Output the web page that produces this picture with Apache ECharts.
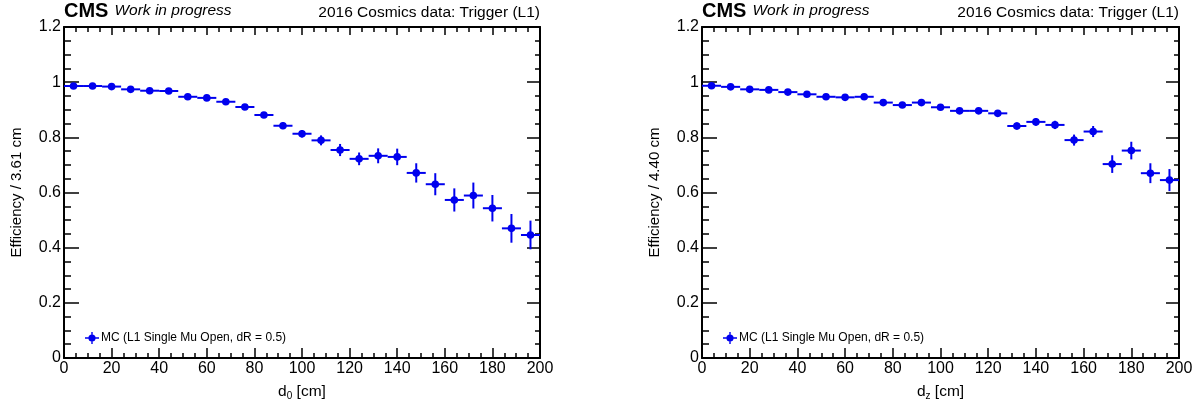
<!DOCTYPE html>
<html>
<head>
<meta charset="utf-8">
<script src="https://cdn.jsdelivr.net/npm/echarts@6/dist/echarts.min.js"></script>
<style>
html, body { margin: 0; padding: 0; background: #fff; }
#chart { width: 1193px; height: 405px; }
</style>
</head>
<body>
<div id="chart"></div>
<script>
// ---- data ----
const binCenters = [4, 12, 20, 28, 36, 44, 52, 60, 68, 76, 84, 92, 100, 108, 116, 124, 132, 140, 148, 156, 164, 172, 180, 188, 196];
const binHalfWidth = 4;
const d0Eff = [0.986, 0.986, 0.984, 0.974, 0.969, 0.968, 0.947, 0.943, 0.929, 0.910, 0.881, 0.842, 0.813, 0.789, 0.754, 0.722, 0.733, 0.729, 0.671, 0.630, 0.573, 0.589, 0.543, 0.470, 0.446];
const d0Err = [0.005, 0.005, 0.005, 0.006, 0.006, 0.006, 0.007, 0.007, 0.008, 0.009, 0.010, 0.012, 0.014, 0.018, 0.022, 0.023, 0.027, 0.030, 0.035, 0.040, 0.042, 0.047, 0.048, 0.052, 0.052];
const dzEff = [0.987, 0.983, 0.974, 0.972, 0.964, 0.956, 0.947, 0.945, 0.947, 0.926, 0.917, 0.926, 0.909, 0.896, 0.896, 0.887, 0.841, 0.856, 0.845, 0.790, 0.821, 0.703, 0.752, 0.670, 0.645];
const dzErr = [0.005, 0.005, 0.005, 0.005, 0.006, 0.006, 0.006, 0.006, 0.007, 0.008, 0.008, 0.008, 0.009, 0.009, 0.010, 0.010, 0.013, 0.014, 0.015, 0.020, 0.020, 0.032, 0.032, 0.036, 0.040];
const seriesName = 'MC (L1 Single Mu Open, dR = 0.5)';
const xTicks = { min: 0, max: 200, interval: 20 };
const yTicks = { min: 0, max: 1.2, interval: 0.2 };
const yTitles = ['Efficiency / 3.61 cm', 'Efficiency / 4.40 cm'];
const xTitles = ['{a|d}{s|0}{a| [cm]}', '{a|d}{s|z}{a| [cm]}'];
const headerLeft = '{b|CMS} {i|Work in progress}';
const headerRight = '2016 Cosmics data: Trigger (L1)';

// ---- style ----
const FONT = '"Liberation Sans", Arial, Helvetica, sans-serif';
const BLUE = '#0000ee';
const grids = [
  { left: 64, top: 27, width: 476, height: 331 },
  { left: 702, top: 27, width: 477, height: 331 }
];

function buildData(eff, err) {
  return binCenters.map((x, i) => [x, eff[i], err[i], binHalfWidth]);
}

function renderErr(params, api) {
  const x = api.value(0), y = api.value(1), e = api.value(2), hw = api.value(3);
  const c = api.coord([x, y]);
  const l = api.coord([x - hw, y]);
  const r = api.coord([x + hw, y]);
  const t = api.coord([x, y + e]);
  const b = api.coord([x, y - e]);
  const st = { stroke: BLUE, lineWidth: 2 };
  return {
    type: 'group',
    children: [
      { type: 'line', shape: { x1: l[0], y1: c[1], x2: r[0], y2: c[1] }, style: st },
      { type: 'line', shape: { x1: c[0], y1: t[1], x2: c[0], y2: b[1] }, style: st },
      { type: 'circle', shape: { cx: c[0], cy: c[1], r: 3.8 }, style: { fill: BLUE } }
    ]
  };
}

const lineSt = { color: '#000', width: 2 };
const tickSt = { color: '#000', width: 1.5 };

const xAxis = [], yAxis = [], series = [], title = [], legend = [];
const legendIcon = 'path://M0,5.3L14,5.3L14,6.7L0,6.7Z M6.3,0L7.7,0L7.7,12L6.3,12Z M10.6,6A3.6,3.6,0,1,1,3.4,6A3.6,3.6,0,1,1,10.6,6Z';

[0, 1].forEach(g => {
  xAxis.push({
    gridIndex: g, type: 'value', position: 'bottom', ...xTicks,
    axisLine: { show: true, onZero: false, lineStyle: lineSt },
    axisTick: { show: true, inside: true, length: 10, lineStyle: tickSt },
    minorTick: { show: true, splitNumber: 4, length: 5, lineStyle: tickSt },
    axisLabel: { color: '#000', fontSize: 16, fontFamily: FONT, margin: 3, showMinLabel: true, showMaxLabel: true },
    splitLine: { show: false }, minorSplitLine: { show: false },
    name: xTitles[g], nameLocation: 'middle', nameGap: 10,
    nameTextStyle: {
      color: '#000', fontFamily: FONT,
      rich: {
        a: { fontSize: 15.5, lineHeight: 16, color: '#000', fontFamily: FONT },
        s: { fontSize: 10, lineHeight: 10, padding: [9, 0, 0, 0], color: '#000', fontFamily: FONT }
      }
    }
  });
  xAxis.push({
    gridIndex: g, type: 'value', position: 'top', ...xTicks,
    axisLine: { show: true, onZero: false, lineStyle: lineSt },
    axisTick: { show: true, inside: true, length: 8, lineStyle: tickSt },
    minorTick: { show: true, splitNumber: 4, length: 5, lineStyle: tickSt },
    axisLabel: { show: false },
    splitLine: { show: false }, minorSplitLine: { show: false }
  });
  yAxis.push({
    gridIndex: g, type: 'value', position: 'left', ...yTicks,
    axisLine: { show: true, onZero: false, lineStyle: lineSt },
    axisTick: { show: true, inside: true, length: 15, lineStyle: tickSt },
    minorTick: { show: true, splitNumber: 4, length: 7, lineStyle: tickSt },
    axisLabel: { color: '#000', fontSize: 16, fontFamily: FONT, margin: 3, showMinLabel: true, showMaxLabel: true },
    splitLine: { show: false }, minorSplitLine: { show: false },
    name: yTitles[g], nameLocation: 'middle', nameGap: 40,
    nameTextStyle: { color: '#000', fontSize: 15, fontFamily: FONT }
  });
  yAxis.push({
    gridIndex: g, type: 'value', position: 'right', ...yTicks,
    axisLine: { show: true, onZero: false, lineStyle: lineSt },
    axisTick: { show: true, inside: true, length: 13, lineStyle: tickSt },
    minorTick: { show: true, splitNumber: 4, length: 5, lineStyle: tickSt },
    axisLabel: { show: false },
    splitLine: { show: false }, minorSplitLine: { show: false }
  });
  series.push({
    type: 'custom', name: seriesName,
    xAxisIndex: g * 2, yAxisIndex: g * 2,
    itemStyle: { color: BLUE },
    renderItem: renderErr,
    encode: { x: 0, y: 1 },
    data: buildData(g === 0 ? d0Eff : dzEff, g === 0 ? d0Err : dzErr),
    silent: true
  });
  title.push({
    left: grids[g].left, top: 0, padding: 0,
    text: headerLeft,
    textStyle: {
      fontWeight: 'normal',
      rich: {
        b: { fontFamily: FONT, fontWeight: 'bold', fontSize: 20, lineHeight: 22, color: '#000' },
        i: { fontFamily: FONT, fontWeight: 'normal', fontStyle: 'italic', fontSize: 15.5, lineHeight: 22, color: '#000', padding: [0, 0, 0, 1] }
      }
    }
  });
  title.push({
    right: 1193 - (grids[g].left + grids[g].width), top: 4, padding: 0,
    text: headerRight,
    textStyle: { fontFamily: FONT, fontWeight: 'normal', fontSize: 15.5, lineHeight: 18, color: '#000' }
  });
  legend.push({
    left: grids[g].left + 21, top: 332, padding: 0,
    orient: 'vertical', selectedMode: false,
    itemWidth: 14, itemHeight: 12, itemGap: 4,
    textStyle: { fontFamily: FONT, fontSize: 12, color: '#000', padding: [0, 0, 0, -3] },
    data: [{ name: seriesName, icon: legendIcon, itemStyle: { color: BLUE } }]
  });
});

const chart = echarts.init(document.getElementById('chart'), null, { renderer: 'canvas' });
chart.setOption({
  animation: false,
  backgroundColor: '#fff',
  title, legend,
  grid: grids.map(g => ({ ...g, containLabel: false, outerBoundsMode: 'none' })),
  xAxis, yAxis, series
});
</script>
</body>
</html>
